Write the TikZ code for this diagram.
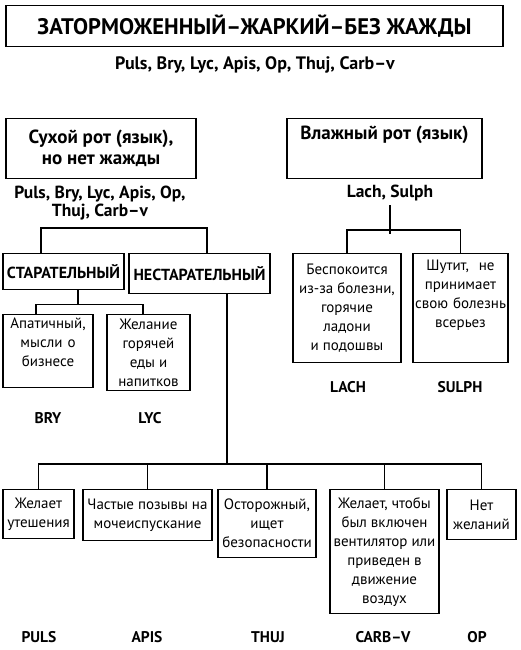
\documentclass[tikz,border=0pt]{standalone}
\usepackage{fontspec}
\setmainfont{PT Sans}
\usetikzlibrary{positioning}

\begin{document}
\begin{tikzpicture}[x=1pt, y=1pt, line width=1.5pt,
    box/.style={draw, align=center, anchor=north, inner sep=3pt, font=\fontsize{15}{19}\selectfont},
    head/.style={box, font=\bfseries\fontsize{19}{21}\selectfont},
    tag/.style={font=\bfseries\fontsize{15.5}{16}\selectfont, align=center},
    remlist/.style={font=\bfseries\fontsize{17.5}{17.5}\selectfont, align=center}]
\useasboundingbox (0,0) rectangle (520,650);

% Title and remedies
\node[head, minimum width=497, minimum height=41, font=\bfseries\fontsize{22.5}{24}\selectfont] (title) at (254.5,645) {ЗАТОРМОЖЕННЫЙ–ЖАРКИЙ–БЕЗ ЖАЖДЫ};
\node[remlist, font=\bfseries\fontsize{18}{18}\selectfont] (allrem) at (255,585) {Puls, Bry, Lyc, Apis, Op, Thuj, Carb–v};

% Dry / wet mouth
\node[head, minimum width=190, minimum height=60] (dry) at (101,532) {Сухой рот (язык),\\но нет жажды};
\node[head, minimum width=195, inner sep=5pt, text height=16, text depth=34] (wet) at (384.5,532) {Влажный рот (язык)};
\node[remlist] (dryrem) at (100,447) {Puls, Bry, Lyc, Apis, Op,\\Thuj, Carb–v};
\node[remlist] (wetrem) at (390,457) {Lach, Sulph};

% Diligent or not
\node[head, font=\bfseries\fontsize{16}{18}\selectfont, inner sep=2pt, minimum width=121, minimum height=36] (diligent) at (63.5,397) {СТАРАТЕЛЬНЫЙ};
\node[head, font=\bfseries\fontsize{16}{18}\selectfont, inner sep=2pt, minimum width=141, minimum height=40] (careless) at (199.5,397) {НЕСТАРАТЕЛЬНЫЙ};
\draw ([xshift=-22.5]diligent.north) -- ++(0,25) -| ([xshift=7.5]careless.north);

% Under diligent
\node[box, text width=84, text height=11, text depth=56] (apathy) at (48,336) {Апатичный,\\мысли о\\бизнесе};
\node[box, minimum width=83, minimum height=76] (hotfood) at (148.5,336) {Желание\\горячей\\еды и\\напитков};
\draw ([xshift=14.5]diligent.south) -- ++(0,-14) coordinate (dilj);
\draw ([xshift=-12]apathy.north) |- (dilj) -| ([xshift=-5.5]hotfood.north);
\node[tag] (bry) at (48,232) {BRY};
\node[tag] (lyc) at (150,232) {LYC};

% Wet side
\node[box, minimum width=108, minimum height=109] (lach) at (347,397) {Беспокоится\\из-за болезни,\\горячие\\ладони\\и подошвы};
\node[box, text width=93, inner sep=1pt, text height=16, text depth=91] (sulph) at (460.5,397) {Шутит,\ \ не\\принимает\\свою болезнь\\всерьез};
\draw (wetrem.south) -- ++(0,-29);
\draw (lach.north) -- ++(0,23) -| (sulph.north);
\node[tag] (lachname) at (348,263) {LACH};
\node[tag] (sulphname) at (460,263) {SULPH};

% Bottom row
\node[box, minimum width=71, minimum height=49] (puls) at (38.5,161) {Желает\\утешения};
\node[box, minimum width=129, minimum height=51] (apis) at (147.5,161) {Частые позывы на\\мочеиспускание};
\node[box, minimum width=98, minimum height=68] (thuj) at (267,161) {Осторожный,\\ищет\\безопасности};
\node[box, minimum width=109, minimum height=124] (carb) at (384.5,161) {Желает, чтобы\\был включен\\вентилятор или\\приведен в\\движение\\воздух};
\node[box, minimum width=69, minimum height=50] (op) at (481.5,161) {Нет\\желаний};
\draw ([xshift=27.5]careless.south) -- ++(0,-171);
\draw (puls.north) -- ++(0,25) -| (op.north);
\foreach \n in {apis,thuj,carb}
  \draw (\n.north) -- ++(0,25);

\node[tag] (pulsname) at (39,13) {PULS};
\node[tag] (apisname) at (147,13) {APIS};
\node[tag] (thujname) at (268,13) {THUJ};
\node[tag] (carbname) at (383,13) {CARB–V};
\node[tag] (opname) at (477,13) {OP};
\end{tikzpicture}
\end{document}
